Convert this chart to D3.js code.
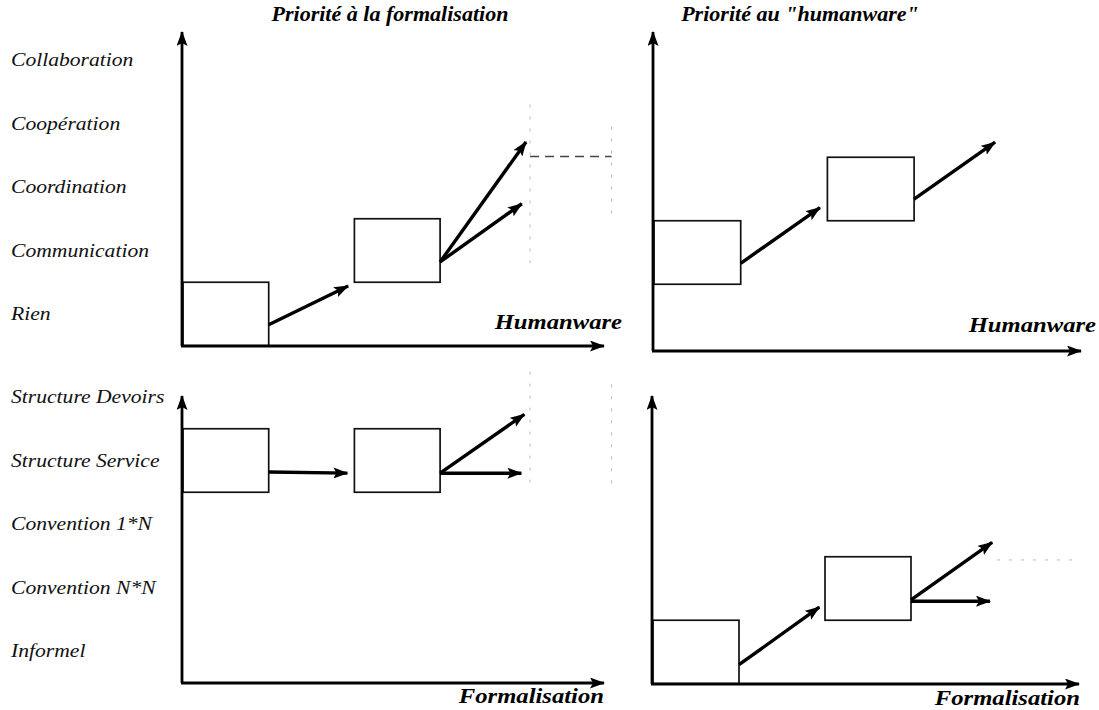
<!DOCTYPE html>
<html>
<head>
<meta charset="utf-8">
<script src="https://cdn.jsdelivr.net/npm/d3@7"></script>
<style>
  html, body { margin: 0; padding: 0; background: #fff; }
  svg { display: block; }
</style>
</head>
<body>
<div id="chart"></div>
<script>
// level names, bottom to top
const aLevelHuman = ["Rien", "Communication", "Coordination", "Coopération", "Collaboration"];
const aLevelFormal = ["Informel", "Convention N*N", "Convention 1*N", "Structure Service", "Structure Devoirs"];
const aTitle = ["Priorité à la formalisation", "Priorité au \"humanware\""];
const aAxisName = ["Humanware", "Formalisation"];

// boxes: [stage start, level]
const aBoxTL = [[0, 0], [2, 1]];
const aBoxTR = [[0, 1], [2, 2]];
const aBoxBL = [[0, 3], [2, 3]];
const aBoxBR = [[0, 0], [2, 1]];

// arrows: [stage from, level from, stage to, level to]
const aArrowTL = [[1, -0.17, 2, 0.49], [3, 0.82, 4.05, 2.8], [3, 0.82, 4.02, 1.8]];
const aArrowTR = [[1, 0.83, 1.98, 1.77], [3, 1.84, 4.0, 2.8]];
const aArrowBL = [[1, 2.82, 2, 2.8], [3, 2.8, 4.05, 3.79], [3, 2.8, 4.03, 2.8]];
const aArrowBR = [[1, -0.2, 2, 0.77], [3, 0.82, 4.01, 1.79], [3, 0.8, 4.0, 0.8]];

// faint guide lines: [stage from, level from, stage to, level to, dark]
const aGuideTL = [[4.05, 3.3, 4.05, 0.8, 0], [4.05, 2.48, 5.0, 2.48, 1], [5.0, 2.95, 5.0, 1.55, 0]];
const aGuideBL = [[4.05, 4.4, 4.05, 2.55, 0], [5.0, 4.2, 5.0, 2.55, 0]];
const aGuideBR = [[4.0, 1.45, 4.9, 1.45, 0]];

const iWidth = 1099, iHeight = 710;
const sFont = "'Liberation Serif', 'Times New Roman', serif";
const iLevelStep = 63.5;

const oPanel = [
  { x0: 183, unit: 85.7, axisY: 346, level0: 314, top: 28, xEnd: 608, box: aBoxTL, arrow: aArrowTL, guide: aGuideTL,
    title: aTitle[0], titleX: 390, name: aAxisName[0], nameX: 622, nameY: 329, levels: aLevelHuman },
  { x0: 654, unit: 86.7, axisY: 351, level0: 316, top: 28, xEnd: 1085, box: aBoxTR, arrow: aArrowTR, guide: [],
    title: aTitle[1], titleX: 800, name: aAxisName[0], nameX: 1096, nameY: 332, levels: null },
  { x0: 183, unit: 85.7, axisY: 683, level0: 651, top: 392, xEnd: 608, box: aBoxBL, arrow: aArrowBL, guide: aGuideBL,
    title: null, name: aAxisName[1], nameX: 604, nameY: 703, levels: aLevelFormal },
  { x0: 653, unit: 86, axisY: 684, level0: 652, top: 392, xEnd: 1083, box: aBoxBR, arrow: aArrowBR, guide: aGuideBR,
    title: null, name: aAxisName[1], nameX: 1080, nameY: 705, levels: null }
];

const d3Svg = d3.select("#chart").append("svg")
  .attr("width", iWidth).attr("height", iHeight)
  .attr("viewBox", `0 0 ${iWidth} ${iHeight}`);

d3Svg.append("defs").append("marker")
  .attr("id", "head")
  .attr("markerUnits", "userSpaceOnUse")
  .attr("markerWidth", 15).attr("markerHeight", 11)
  .attr("viewBox", "0 0 15 11")
  .attr("refX", 14).attr("refY", 5.5)
  .attr("orient", "auto")
  .append("path").attr("d", "M0,0 L15,5.5 L0,11 L3,5.5 Z").attr("fill", "#000");

// stretch text horizontally like the scanned original
function stretch(sel, k) {
  sel.each(function () {
    const iLen = this.getComputedTextLength();
    d3.select(this).attr("textLength", iLen * k).attr("lengthAdjust", "spacingAndGlyphs");
  });
}

// shorten a segment so the thick line stays under the arrow head
function shorten(x1, y1, x2, y2, d) {
  const l = Math.hypot(x2 - x1, y2 - y1);
  return [x2 - (x2 - x1) * d / l, y2 - (y2 - y1) * d / l];
}

oPanel.forEach(p => {
  const x = d3.scaleLinear().domain([0, 1]).range([p.x0, p.x0 + p.unit]);
  const y = d3.scaleLinear().domain([0, 1]).range([p.level0, p.level0 - iLevelStep]);
  const g = d3Svg.append("g");

  // guide lines
  g.selectAll("line.guide").data(p.guide).enter().append("line")
    .attr("x1", a => x(a[0])).attr("y1", a => y(a[1]))
    .attr("x2", a => x(a[2])).attr("y2", a => y(a[3]))
    .attr("stroke", a => a[4] ? "#444" : "#bbb")
    .attr("stroke-width", a => a[4] ? 1.4 : 1)
    .attr("stroke-dasharray", a => a[4] ? "9,6" : "3,9");

  // boxes
  g.selectAll("rect").data(p.box).enter().append("rect")
    .attr("x", a => x(a[0]))
    .attr("y", a => y(a[1] + 0.5))
    .attr("width", a => x(a[0] + 1) - x(a[0]))
    .attr("height", a => y(a[1] - 0.5) - y(a[1] + 0.5))
    .attr("fill", "none").attr("stroke", "#111").attr("stroke-width", 1.7);

  // axes
  g.append("line")
    .attr("x1", p.x0 - 1).attr("y1", p.axisY)
    .attr("x2", p.x0 - 1).attr("y2", p.top + 4)
    .attr("stroke", "#000").attr("stroke-width", 2.8)
    .attr("marker-end", "url(#head)");
  g.append("line")
    .attr("x1", p.x0 - 2).attr("y1", p.axisY)
    .attr("x2", p.xEnd - 4).attr("y2", p.axisY)
    .attr("stroke", "#000").attr("stroke-width", 2.8)
    .attr("marker-end", "url(#head)");

  // arrows
  g.selectAll("line.arrow").data(p.arrow).enter().append("line")
    .attr("x1", a => x(a[0])).attr("y1", a => y(a[1]))
    .attr("x2", a => shorten(x(a[0]), y(a[1]), x(a[2]), y(a[3]), 7)[0])
    .attr("y2", a => shorten(x(a[0]), y(a[1]), x(a[2]), y(a[3]), 7)[1])
    .attr("stroke", "#000").attr("stroke-width", 3.4)
    .attr("marker-end", "url(#head)");

  // level labels
  if (p.levels) {
    const t = g.selectAll("text.level").data(p.levels).enter().append("text")
      .text(s => s)
      .attr("x", 11)
      .attr("y", (s, i) => y(i) + 6)
      .attr("font-family", sFont).attr("font-style", "italic")
      .attr("font-size", "18px").attr("fill", "#111");
    stretch(t, 1.2);
  }

  if (p.title) {
    const t = g.append("text").text(p.title)
      .attr("x", p.titleX).attr("y", 21)
      .attr("text-anchor", "middle")
      .attr("font-family", sFont).attr("font-style", "italic").attr("font-weight", "bold")
      .attr("font-size", "21px").attr("fill", "#000");
    stretch(t, 1.05);
  }

  const tName = g.append("text").text(p.name)
    .attr("x", p.nameX).attr("y", p.nameY)
    .attr("text-anchor", "end")
    .attr("font-family", sFont).attr("font-style", "italic").attr("font-weight", "bold")
    .attr("font-size", "22px").attr("fill", "#000");
  stretch(tName, 1.12);
});
</script>
</body>
</html>
